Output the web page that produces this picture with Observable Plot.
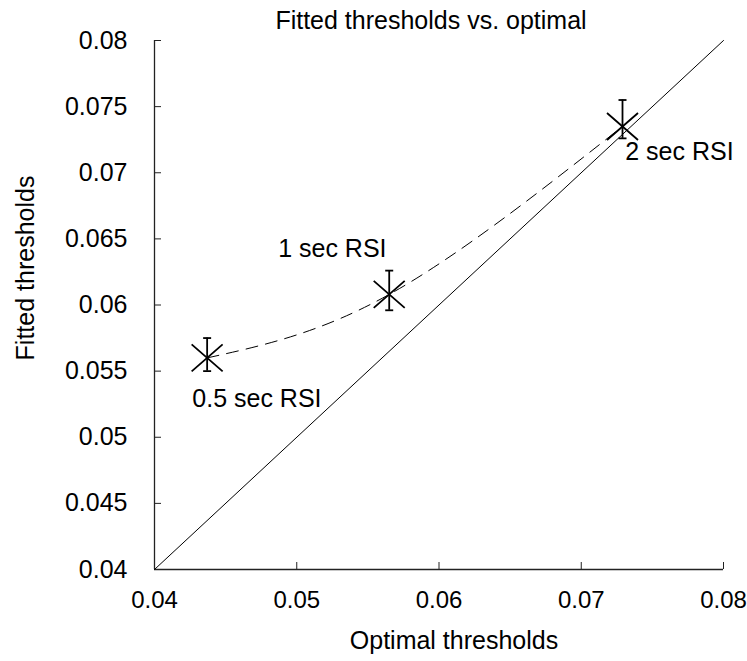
<!DOCTYPE html>
<html><head><meta charset="utf-8">
<script src="https://cdn.jsdelivr.net/npm/d3@7"></script>
<script src="https://cdn.jsdelivr.net/npm/@observablehq/plot@0.6"></script>
<style>body{margin:0;background:#fff;} svg{display:block;}</style>
</head><body><div id="chart"></div>
<script>
const labels = ["0.5 sec RSI", "1 sec RSI", "2 sec RSI"];
const optimal = [0.0437, 0.0565, 0.0729];
const fitted = [0.0560, 0.0608, 0.0735];
const errLo = [0.0550, 0.0596, 0.0726];
const errHi = [0.0575, 0.0626, 0.0755];
const labelX = [0.0472, 0.0525, 0.0769];
const labelY = [0.0529, 0.0642, 0.0716];
const xTicks = [0.04, 0.05, 0.06, 0.07, 0.08];
const yTicks = [0.04, 0.045, 0.05, 0.055, 0.06, 0.065, 0.07, 0.075, 0.08];
const diagonal = [0.04, 0.08];
const title = "Fitted thresholds vs. optimal";
const xTitle = "Optimal thresholds";
const yTitle = "Fitted thresholds";

const pts = labels.map((l, i) => ({label: l, x: optimal[i], y: fitted[i], lo: errLo[i], hi: errHi[i], lx: labelX[i], ly: labelY[i]}));
const hbar = {draw(ctx, size) { const r = Math.sqrt(size / Math.PI); ctx.moveTo(-r, 0); ctx.lineTo(r, 0); }};
const cross = {draw(ctx, size) { const r = Math.sqrt(size / Math.PI), h = r * 0.87; ctx.moveTo(-r, -h); ctx.lineTo(r, h); ctx.moveTo(-r, h); ctx.lineTo(r, -h); }};
const fmt = d => String(+d.toFixed(3));
const font = "Liberation Sans, Arial, Helvetica, sans-serif";
const fs = 25;

const chart = Plot.plot({
  width: 747, height: 661,
  marginLeft: 154, marginRight: 24, marginTop: 40, marginBottom: 92,
  style: {fontFamily: font, fontSize: fs + "px", color: "#000", background: "#fff"},
  x: {domain: [0.04, 0.08]},
  y: {domain: [0.04, 0.08]},
  marks: [
    Plot.ruleX([0.04], {stroke: "#222", strokeWidth: 1.3}),
    Plot.ruleY([0.04], {stroke: "#222", strokeWidth: 1.3}),
    Plot.axisX({ticks: xTicks, tickSize: -7, stroke: "#222", tickFormat: () => "", label: null}),
    Plot.axisY({ticks: yTicks, tickSize: -7, stroke: "#222", tickFormat: () => "", label: null}),
    Plot.axisX({ticks: xTicks, tickSize: 0, tickPadding: 21, tickFormat: fmt, label: null, fontSize: 24}),
    Plot.axisY({ticks: yTicks, tickSize: 0, tickPadding: 27, tickFormat: fmt, label: null, fontSize: fs}),
    Plot.line(diagonal, {x: d => d, y: d => d, stroke: "#000", strokeWidth: 1}),
    Plot.line(pts, {x: "x", y: "y", curve: "natural", stroke: "#000", strokeWidth: 1, strokeDasharray: "12,8"}),
    Plot.ruleX(pts, {x: "x", y1: "lo", y2: "hi", stroke: "#000", strokeWidth: 1.8}),
    Plot.dot(pts, {x: "x", y: "lo", symbol: hbar, r: 4, stroke: "#000", strokeWidth: 1.8}),
    Plot.dot(pts, {x: "x", y: "hi", symbol: hbar, r: 4, stroke: "#000", strokeWidth: 1.8}),
    Plot.dot(pts, {x: "x", y: "y", symbol: cross, r: 15.5, stroke: "#000", strokeWidth: 1.8}),
    Plot.text(pts, {x: "lx", y: "ly", text: "label", fontSize: fs, fill: "#000"}),
    Plot.text([title], {frameAnchor: "top", textAnchor: "middle", lineAnchor: "middle", dy: -20, dx: -8, fontSize: fs, fill: "#000"}),
    Plot.text([xTitle], {frameAnchor: "bottom", textAnchor: "middle", lineAnchor: "middle", dy: 71, dx: 15, fontSize: fs, fill: "#000"}),
    Plot.text([yTitle], {frameAnchor: "left", textAnchor: "middle", lineAnchor: "middle", rotate: -90, dx: -129, dy: -37, fontSize: fs, fill: "#000"})
  ]
});
document.getElementById("chart").appendChild(chart);
</script></body></html>
